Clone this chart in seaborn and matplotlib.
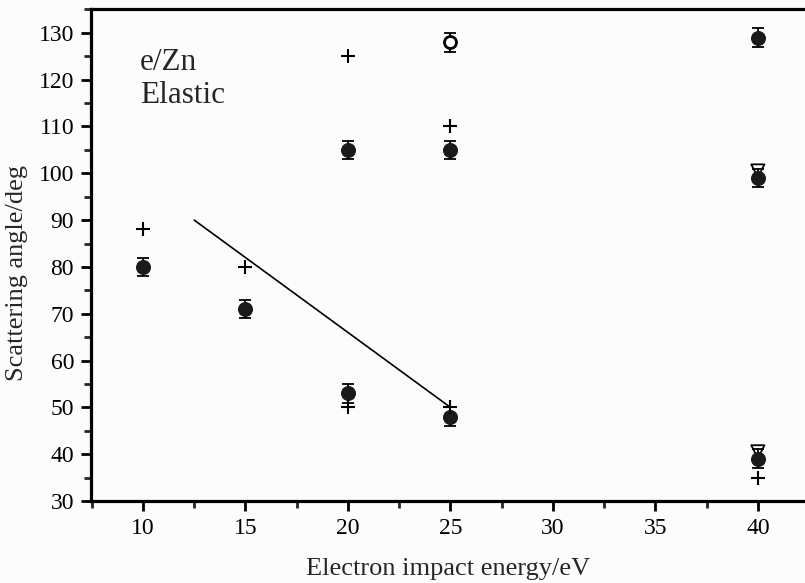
import matplotlib
matplotlib.use("Agg")
import matplotlib.pyplot as plt
from matplotlib.ticker import MultipleLocator
import pandas as pd
import seaborn as sns

# ------------------------------------------------------
# Data (e/Zn elastic, angle vs energy)
# ------------------------------------------------------
filled_energy = [10, 15, 20, 20, 25, 25, 40, 40, 40]
filled_angle = [80, 71, 53, 105, 48, 105, 129, 99, 39]
filled_err = [2, 2, 2, 2, 2, 2, 2, 2, 2]

open_energy = [25]
open_angle = [128]
open_err = [2]

plus_energy = [10, 15, 20, 20, 25, 25, 40]
plus_angle = [88, 80, 125, 50, 110, 50, 35]

tri_energy = [40, 40]
tri_angle = [100.5, 40.5]

line_energy = [12.5, 25]
line_angle = [90, 50]

sns.set_style("ticks")
plt.rcParams["font.family"] = ["Liberation Serif", "DejaVu Serif"]

fig = plt.figure(figsize=(8.05, 5.83), dpi=100)
fig.patch.set_facecolor("#fcfcfc")
ax = fig.add_axes([0.1127, 0.1407, 0.8873, 0.8439])
ax.set_facecolor("#fcfcfc")

# straight guide line
sns.lineplot(x=line_energy, y=line_angle, ax=ax, color="black", linewidth=1.2)

# error bars for circles
ax.errorbar(filled_energy, filled_angle, yerr=filled_err, fmt="none",
            ecolor="black", elinewidth=1.3, capsize=4, capthick=1.3, zorder=3)
ax.errorbar(open_energy, open_angle, yerr=open_err, fmt="none",
            ecolor="black", elinewidth=1.3, capsize=4, capthick=1.3, zorder=3)

# markers
sns.scatterplot(x=tri_energy, y=tri_angle, ax=ax, marker="v", s=90,
                facecolor="none", edgecolor="black", linewidth=1.3, zorder=4)
sns.scatterplot(x=filled_energy, y=filled_angle, ax=ax, marker="o", s=100,
                color="#1a1a1a", edgecolor="#1a1a1a", zorder=5)
sns.scatterplot(x=open_energy, y=open_angle, ax=ax, marker="o", s=75,
                facecolor="white", edgecolor="black", linewidth=2, zorder=5)
sns.scatterplot(x=plus_energy, y=plus_angle, ax=ax, marker="+", s=110,
                color="black", linewidth=1.5, zorder=5)

ax.set_xlim(7.45, 42.3)
ax.set_ylim(30, 135.1)
ax.xaxis.set_major_locator(MultipleLocator(5))
ax.xaxis.set_minor_locator(MultipleLocator(2.5))
ax.yaxis.set_major_locator(MultipleLocator(10))
ax.yaxis.set_minor_locator(MultipleLocator(5))
ax.set_xticks([10, 15, 20, 25, 30, 35, 40])

ax.tick_params(axis="both", which="major", direction="out", length=7,
               width=2, labelsize=17, colors="black", pad=5)
ax.tick_params(axis="both", which="minor", direction="out", length=5, width=2)

for side in ["left", "bottom", "top"]:
    ax.spines[side].set_linewidth(2.3)
    ax.spines[side].set_color("black")
ax.spines["right"].set_visible(False)

ax.set_xlabel("Electron impact energy/eV", fontsize=19, labelpad=14)
ax.set_ylabel("Scattering angle/deg", fontsize=19)
ax.yaxis.set_label_coords(-0.088, 0.463)

ax.text(0.069, 0.892, "e/Zn", transform=ax.transAxes, fontsize=22.5, va="center")
ax.text(0.069, 0.825, "Elastic", transform=ax.transAxes, fontsize=22.5, va="center")

fig.savefig("out.png", dpi=100, facecolor=fig.get_facecolor())
